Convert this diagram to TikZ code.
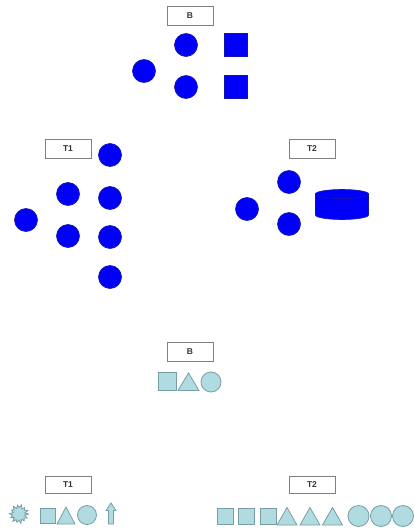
\documentclass[tikz,border=0pt]{standalone}
\usepackage{fontspec}
\setsansfont{Liberation Sans}
\usetikzlibrary{calc}
\definecolor{dotblue}{RGB}{0,0,250}
\definecolor{dotedge}{RGB}{20,20,170}
\definecolor{paleshape}{RGB}{176,219,224}
\definecolor{paleedge}{RGB}{118,158,164}
\definecolor{tagedge}{RGB}{128,128,128}

\begin{document}
\begin{tikzpicture}[x=1pt, y=-1pt,
  tag/.style={draw=tagedge, line width=0.8pt, fill=white, minimum width=46pt, minimum height=19pt,
    inner sep=0pt, font=\sffamily\bfseries\fontsize{8.5}{8.5}\selectfont, text=black!80},
  dot/.style={circle, fill=dotblue, draw=dotedge, line width=0.6pt, minimum size=23pt, inner sep=0pt},
  blk/.style={rectangle, fill=dotblue, draw=dotedge, line width=0.6pt, minimum size=23pt, inner sep=0pt},
  pale/.style={fill=paleshape, draw=paleedge, line width=0.8pt},
  pdot/.style={pale, circle, inner sep=0pt},
  pbox/.style={pale, rectangle, minimum size=16pt, inner sep=0pt}]
  \useasboundingbox (0,0) rectangle (413,530);

  % upper half
  \node[tag] (b1) at (190,16) {B};
  \node[dot] (b1a) at (186,45) {};
  \node[dot] (b1b) at (144,71) {};
  \node[dot] (b1c) at (186,87) {};
  \node[blk] (b1d) at (236,45) {};
  \node[blk] (b1e) at (236,87) {};

  \node[tag] (t1) at (68,149) {T1};
  \foreach \nm/\px/\py in {a/110/155, b/68/194, c/110/198, d/26/220, e/68/236, f/110/237, g/110/277}
    \node[dot] (t1\nm) at (\px,\py) {};

  \node[tag] (t2) at (312,149) {T2};
  \node[dot] (t2a) at (289,182) {};
  \node[dot] (t2b) at (247,209) {};
  \node[dot] (t2c) at (289,224) {};
  \filldraw[fill=dotblue, draw=dotedge, line width=0.6pt]
    (315.5,194) -- (315.5,215) arc[start angle=180, end angle=0, x radius=26.5, y radius=4.5]
    -- (368.5,194) arc[start angle=0, end angle=180, x radius=26.5, y radius=4.5] -- cycle;
  \filldraw[fill=dotblue, draw=dotedge, line width=0.6pt] (342,194) ellipse[x radius=26.5, y radius=4.5];

  % lower half
  \node[tag] (b2) at (190,352) {B};
  \node[pbox, minimum size=18pt] (b2a) at (167,381.5) {};
  \filldraw[pale] (178,390.5) -- (188.5,373) -- (199,390.5) -- cycle;
  \node[pdot, minimum size=20pt] (b2c) at (211,382) {};

  \node[tag, minimum height=17pt] (t3) at (68,485) {T1};
  \coordinate (t3a) at (19,514);
  \filldraw[pale] ($(t3a)+(0:9.5)$)
    \foreach \ang/\rad in {13/6,26/9,39/6.5,52/8.5,65/6,78/9.5,91/6,104/8.5,117/6.5,130/9.5,143/6,
      156/9,169/6.5,182/9.5,195/6,208/8.5,221/6.5,234/9.5,247/6,260/9,273/6.5,286/9.5,299/6,312/8.5,
      325/6.5,338/9.5,351/6} { -- ($(t3a)+(\ang:\rad)$) } -- cycle;
  \node[pbox, minimum size=15pt] (t3b) at (48,516) {};
  \filldraw[pale] (57,524) -- (66,507) -- (75,524) -- cycle;
  \node[pdot, minimum size=19pt] (t3d) at (87,515) {};
  \filldraw[pale] (108.5,524) -- (108.5,510.5) -- (106,510.5) -- (111,503) -- (116,510.5) -- (113.5,510.5) -- (113.5,524) -- cycle;

  \node[tag, minimum height=17pt] (t4) at (312,485) {T2};
  \foreach \px in {225,246.5,268.5}
    \node[pbox] at (\px,516) {};
  \foreach \px in {287,310,332.5}
    \filldraw[pale] (\px-10,525) -- (\px,507.5) -- (\px+10,525) -- cycle;
  \foreach \px in {358.5,381,403}
    \node[pdot, minimum size=21pt] at (\px,516) {};
\end{tikzpicture}
\end{document}
